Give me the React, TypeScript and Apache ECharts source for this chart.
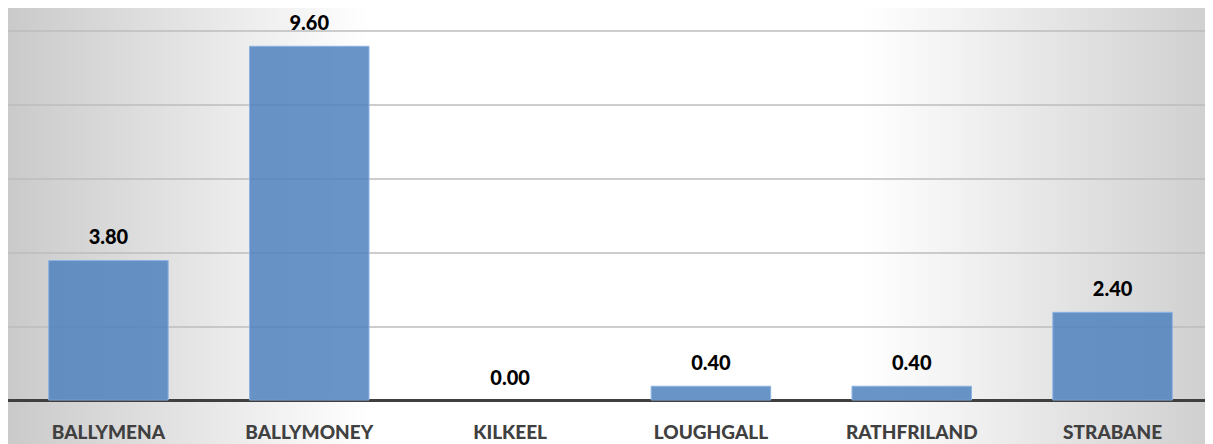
import React, { useEffect, useRef } from "react";
import * as echarts from "echarts";

const categories = ["BALLYMENA", "BALLYMONEY", "KILKEEL", "LOUGHGALL", "RATHFRILAND", "STRABANE"];
const values = [3.8, 9.6, 0.0, 0.4, 0.4, 2.4];
const yMin = 0;
const yMax = 10;
const yInterval = 2;

export default function App() {
  const ref = useRef<HTMLDivElement>(null);
  useEffect(() => {
    if (!ref.current) return;
    const chart = echarts.init(ref.current, undefined, { renderer: "svg" });
    const W = ref.current.clientWidth;
    const H = ref.current.clientHeight;
    chart.setOption({
      animation: false,
      graphic: [
        {
          type: "rect",
          left: 0,
          top: 0,
          z: -100,
          silent: true,
          shape: { x: 0, y: 0, width: W, height: H },
          style: {
            fill: new echarts.graphic.LinearGradient(0, 0, 1, 0, [
              { offset: 0, color: "#cacaca" },
              { offset: 0.3, color: "#ffffff" },
              { offset: 0.71, color: "#ffffff" },
              { offset: 1, color: "#cfcfcf" },
            ]),
          },
        },
      ],
      grid: { left: 0, right: 0, top: 23, bottom: 43.5, containLabel: false },
      xAxis: {
        type: "category",
        data: categories,
        axisTick: { show: false },
        axisLine: { show: true, lineStyle: { color: "#3f3f3f", width: 3 } },
        axisLabel: {
          margin: 21,
          color: "#404040",
          fontFamily: "Lato",
          fontWeight: 900,
          fontSize: 19,
          interval: 0,
        },
      },
      yAxis: {
        type: "value",
        min: yMin,
        max: yMax,
        interval: yInterval,
        axisLabel: { show: false },
        axisLine: { show: false },
        axisTick: { show: false },
        splitLine: { show: true, lineStyle: { color: "#bdbdbd", width: 1.5 } },
      },
      series: [
        {
          type: "bar",
          data: values.map((v) => ({
            value: v,
            itemStyle: v === 0 ? { borderWidth: 0, color: "rgba(0,0,0,0)" } : undefined,
          })),
          barWidth: "60%",
          itemStyle: {
            color: "rgba(79,129,189,0.85)",
            borderColor: "#8db3e2",
            borderWidth: 1,
          },
          label: {
            show: true,
            position: "top",
            distance: 14,
            color: "#000000",
            fontFamily: "Lato",
            fontWeight: 900,
            fontSize: 20,
            formatter: (p: any) => Number(p.value).toFixed(2),
          },
        },
      ],
    });
    return () => chart.dispose();
  }, []);
  return <div ref={ref} style={{ width: "1205px", height: "436px" }} />;
}
